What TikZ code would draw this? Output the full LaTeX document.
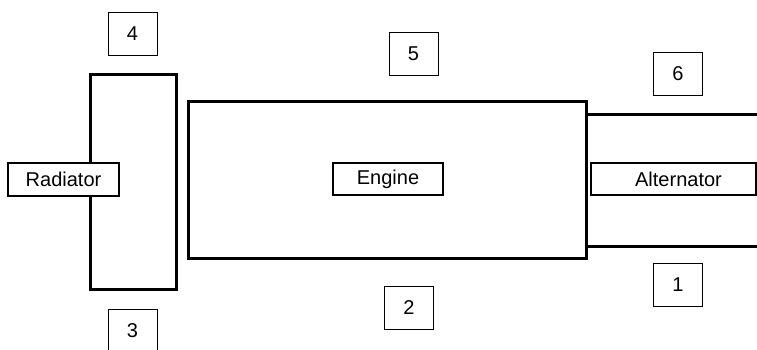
\documentclass[tikz,border=0pt]{standalone}
\usepackage{fontspec}
\setmainfont{Liberation Sans}
\begin{document}
\begin{tikzpicture}[x=1pt,y=-1pt,
  heavy/.style={draw,line width=3pt,inner sep=0pt},
  lbl/.style={draw,fill=white,line width=1.1pt,inner sep=0pt,font=\fontsize{20}{24}\selectfont},
  numbox/.style={draw,line width=1pt,inner sep=0pt,minimum width=49pt,minimum height=43pt,font=\fontsize{20}{24}\selectfont}]
\useasboundingbox (0,0) rectangle (757,349);
% radiator and engine bodies
\node[heavy,minimum width=86pt,minimum height=215pt] (rad) at (133,181.5) {};
\node[heavy,minimum width=398pt,minimum height=157pt] (eng) at (387,179.5) {};
% alternator lines
\coordinate (at1) at (586,114);
\coordinate (at2) at (759,114);
\coordinate (ab1) at (586,246);
\coordinate (ab2) at (759,246);
\draw[line width=3pt] (at1) -- (at2);
\draw[line width=3pt] (ab1) -- (ab2);
% labels
\node[lbl,minimum width=111pt,minimum height=33pt] (radl) at (63.5,179.5) {Radiator};
\node[lbl,minimum width=110pt,minimum height=32pt] (engl) at (388,179) {Engine};
\node[lbl,minimum width=165pt,minimum height=32pt,text width=160pt,align=center] (altl) at (673.5,179) {\hspace*{10pt}Alternator};
% numbered boxes
\node[numbox] (n4) at (132.5,33.5) {4};
\node[numbox] (n5) at (413.5,53.5) {5};
\node[numbox] (n6) at (678,73.5) {6};
\node[numbox] (n1) at (678,284.5) {1};
\node[numbox] (n2) at (409,308) {2};
\node[numbox] (n3) at (132.5,330.5) {3};
\end{tikzpicture}
\end{document}
